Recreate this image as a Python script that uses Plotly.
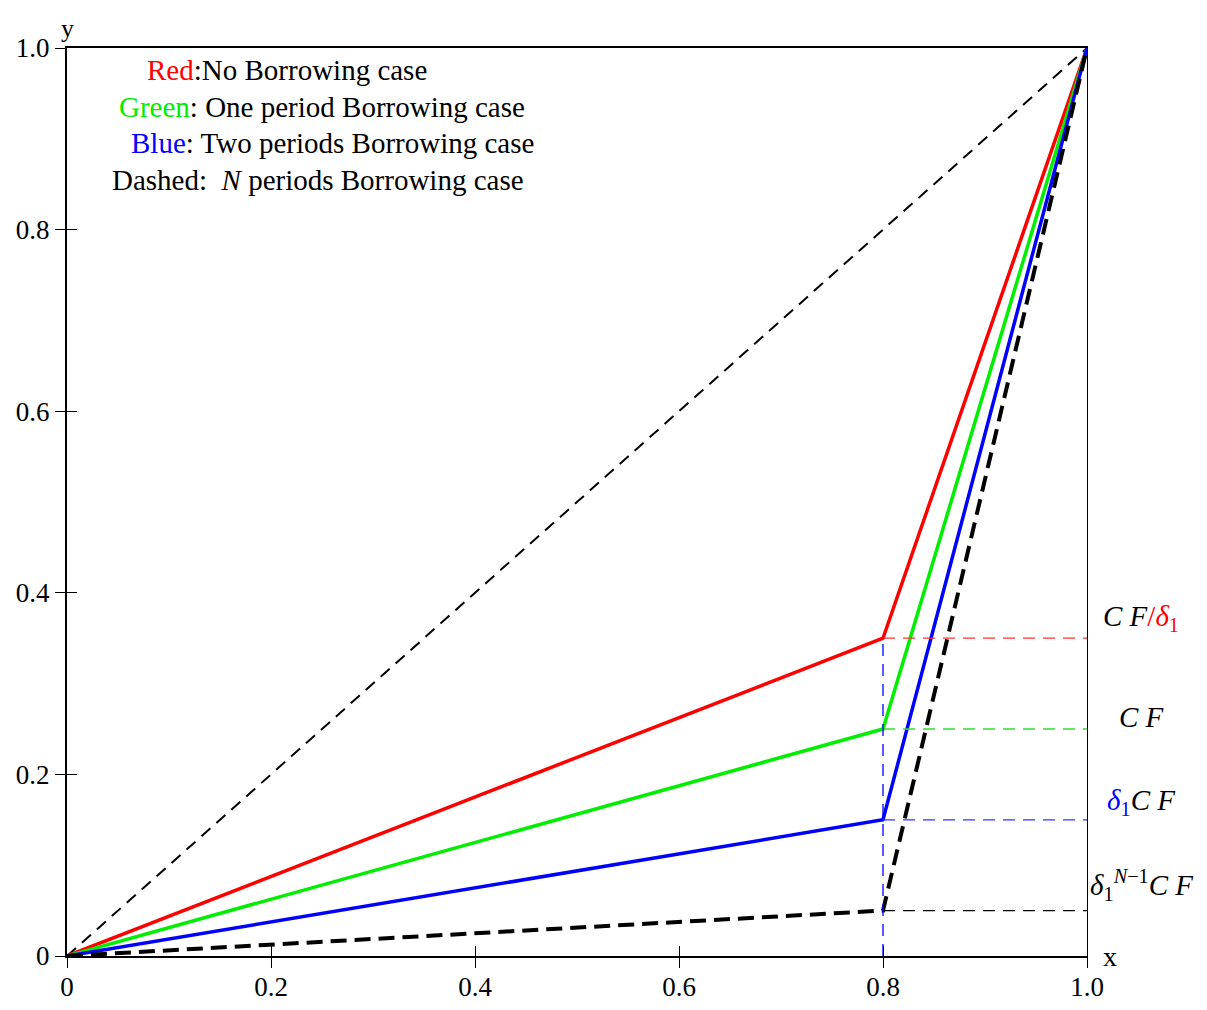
import plotly.graph_objects as go

# ---- data ----
x_kink = [0.0, 0.8, 1.0]
red_y = [0.0, 0.35, 1.0]
green_y = [0.0, 0.25, 1.0]
blue_y = [0.0, 0.15, 1.0]
nper_y = [0.0, 0.05, 1.0]
diag_x = [0.0, 1.0]
diag_y = [0.0, 1.0]
ref_levels = [0.35, 0.25, 0.15, 0.05]
ref_colors = ["#ff3333", "#33dd33", "#3333ff", "#000000"]
ref_x = [0.8, 1.0]
vert_x = [0.8, 0.8]
vert_y = [0.0, 0.35]
tick_vals = [0, 0.2, 0.4, 0.6, 0.8, 1.0]
tick_text = ["0", "0.2", "0.4", "0.6", "0.8", "1.0"]

legend_lines = [
    "<span style='color:#ff0000'>Red</span>:No Borrowing case",
    "<span style='color:#00ee00'>Green</span>: One period Borrowing case",
    "<span style='color:#0000ff'>Blue</span>: Two periods Borrowing case",
    "Dashed:  <i>N</i> periods Borrowing case",
]
legend_x = [0.0765, 0.049, 0.0608, 0.0422]
legend_y = [0.9758, 0.935, 0.8954, 0.8546]

right_labels = [
    "<i>C F</i><span style='color:#ff0000'>/<i>δ</i><sub>1</sub></span>",
    "<i>C F</i>",
    "<span style='color:#0000ff'><i>δ</i><sub>1</sub></span><i>C F</i>",
    "<i>δ</i><sub>1</sub><sup><i>N</i>−1</sup><i>C F</i>",
]
right_y = [0.372, 0.263, 0.170, 0.078]

FONT = "Liberation Serif"

fig = go.Figure()

fig.add_trace(go.Scatter(x=diag_x, y=diag_y, mode="lines",
                         line=dict(color="black", width=2, dash="12px,8px"),
                         showlegend=False, hoverinfo="skip"))
for ys, col in [(red_y, "#ff0000"), (green_y, "#00ee00"), (blue_y, "#0000ff")]:
    fig.add_trace(go.Scatter(x=x_kink, y=ys, mode="lines",
                             line=dict(color=col, width=3.5),
                             showlegend=False, hoverinfo="skip"))
fig.add_trace(go.Scatter(x=x_kink, y=nper_y, mode="lines",
                         line=dict(color="black", width=4, dash="16px,8px"),
                         showlegend=False, hoverinfo="skip"))
for lvl, col in zip(ref_levels, ref_colors):
    fig.add_trace(go.Scatter(x=ref_x, y=[lvl, lvl], mode="lines",
                             line=dict(color=col, width=1.3, dash="12px,8px"),
                             showlegend=False, hoverinfo="skip"))
fig.add_trace(go.Scatter(x=vert_x, y=vert_y, mode="lines",
                         line=dict(color="#0000ff", width=1.3, dash="12px,8px"),
                         showlegend=False, hoverinfo="skip"))

# helper empty traces to register overlay axes
fig.add_trace(go.Scatter(x=[None], y=[None], xaxis="x2", yaxis="y2",
                         showlegend=False, hoverinfo="skip"))
fig.add_trace(go.Scatter(x=[None], y=[None], xaxis="x", yaxis="y3",
                         showlegend=False, hoverinfo="skip"))

for txt, xx, yy in zip(legend_lines, legend_x, legend_y):
    fig.add_annotation(text=txt, x=xx, y=yy, xref="paper", yref="y",
                       xanchor="left", yanchor="middle", showarrow=False,
                       font=dict(family=FONT, size=29, color="black"))

for txt, yy in zip(right_labels, right_y):
    fig.add_annotation(text=txt, x=1.053, y=yy, xref="paper", yref="y",
                       xanchor="center", yanchor="middle", showarrow=False,
                       font=dict(family=FONT, size=29, color="black"))

fig.add_annotation(text="x", x=1.0, y=0, xref="paper", yref="y",
                   xanchor="left", yanchor="middle", xshift=14, showarrow=False,
                   font=dict(family=FONT, size=28, color="black"))
fig.add_annotation(text="y", x=0.0, y=1.0, xref="paper", yref="paper",
                   xanchor="center", yanchor="bottom", yshift=3, showarrow=False,
                   font=dict(family=FONT, size=26, color="black"))

axis_common = dict(range=[0, 1], showgrid=False, zeroline=False,
                   tickvals=tick_vals, ticktext=tick_text,
                   tickfont=dict(family=FONT, size=27, color="black"),
                   tickcolor="black", tickwidth=1.3, ticklen=10)

fig.update_layout(
    width=1191, height=994,
    margin=dict(l=59, r=112, t=40, b=46, autoexpand=False),
    paper_bgcolor="white", plot_bgcolor="white",
    xaxis=dict(**axis_common, ticks="outside", showline=True, linecolor="black",
               linewidth=2, mirror=True, fixedrange=True, ticklabelstandoff=-4),
    yaxis=dict(**axis_common, ticks="outside", showline=True, linecolor="black",
               linewidth=2, fixedrange=True),
    xaxis2=dict(**axis_common, overlaying="x", matches="x", anchor="y2", side="bottom",
                ticks="inside", showticklabels=False, showline=False),
    yaxis2=dict(**axis_common, overlaying="y", matches="y", anchor="x2", side="left",
                ticks="inside", showticklabels=False, showline=False),
    yaxis3=dict(range=[0, 1], overlaying="y", matches="y", anchor="x", side="right",
                showgrid=False, zeroline=False, showticklabels=False, ticks="",
                showline=True, linecolor="black", linewidth=1.3),
)

fig.write_html("out.html")
